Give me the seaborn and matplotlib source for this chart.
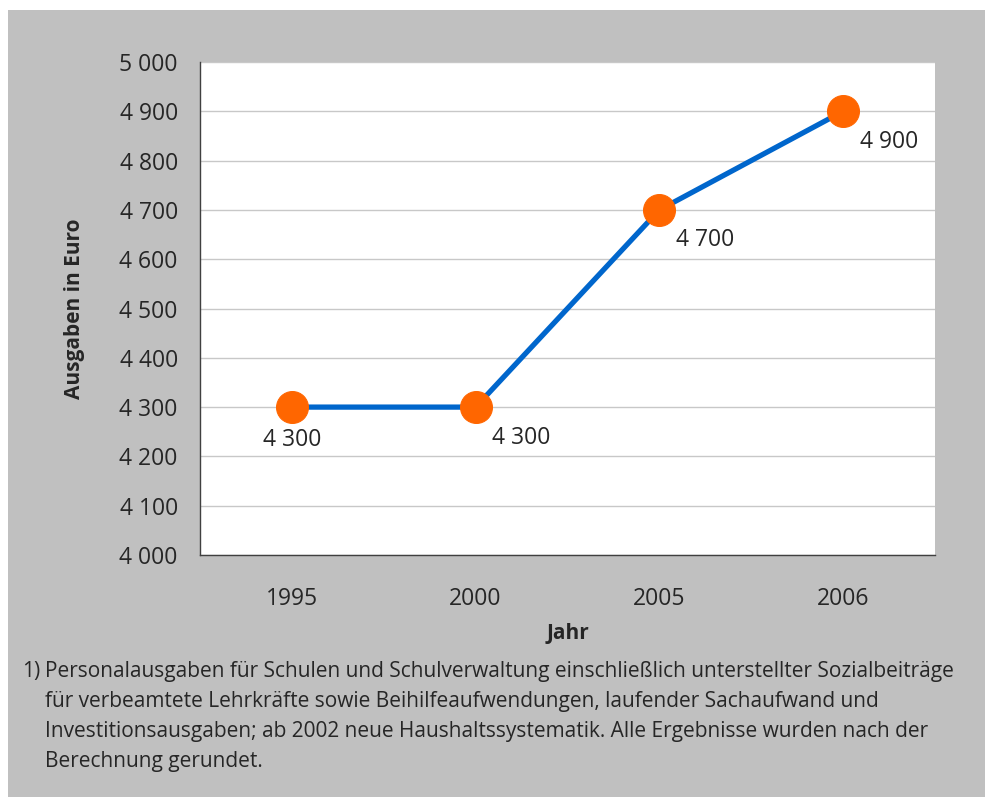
"""
Ausgaben je Schüler 1995-2006 - line chart with data labels.
"""

import matplotlib.pyplot as plt
import matplotlib.ticker as mticker
import numpy as np
import seaborn as sns
from matplotlib.patches import Rectangle

# Data
years = ["1995", "2000", "2005", "2006"]
spending = [4300, 4300, 4700, 4900]
y_ticks = list(range(4000, 5001, 100))

footnote_lines = [
    "Personalausgaben für Schulen und Schulverwaltung einschließlich unterstellter Sozialbeiträge",
    "für verbeamtete Lehrkräfte sowie Beihilfeaufwendungen, laufender Sachaufwand und",
    "Investitionsausgaben; ab 2002 neue Haushaltssystematik. Alle Ergebnisse wurden nach der",
    "Berechnung gerundet.",
]

BLUE = "#0066cc"
ORANGE = "#ff6600"
GRAY_BG = "#c0c0c0"

sns.set_style("white")
plt.rcParams["font.family"] = ["Open Sans", "DejaVu Sans"]

W, H = 985, 797
fig = plt.figure(figsize=(W / 100, H / 100), dpi=100)
fig.patch.set_facecolor("white")
fig.patches.append(Rectangle((8 / W, 0), 1 - 8 / W, 1 - 10 / H,
                             transform=fig.transFigure, facecolor=GRAY_BG,
                             edgecolor="none", zorder=-10))

ax = fig.add_axes([200 / W, 1 - 555 / H, 735 / W, 493 / H])
ax.set_facecolor("white")

x = np.arange(len(years))
sns.lineplot(x=x, y=spending, ax=ax, color=BLUE, linewidth=3.8, marker="o",
             markersize=23, markerfacecolor=ORANGE, markeredgecolor=ORANGE,
             zorder=3)

# Data labels
for i, v in enumerate(spending):
    label = f"{v:,}".replace(",", " ")
    if i == 0:
        ax.annotate(label, (i, v), xytext=(0, -24), textcoords="offset points",
                    ha="center", va="center", fontsize=16.5)
    else:
        ax.annotate(label, (i, v), xytext=(12, -22), textcoords="offset points",
                    ha="left", va="center", fontsize=16.5)

# Axes
ax.set_ylim(4000, 5000)
ax.set_yticks(y_ticks)
ax.yaxis.set_major_formatter(mticker.FuncFormatter(lambda v, _: f"{int(v):,}".replace(",", " ")))
ax.set_xlim(-0.5, len(years) - 0.5)
ax.set_xticks(np.arange(len(years) + 1) - 0.5)
ax.set_xticklabels([])
ax.set_xticks(x, minor=True)
ax.set_xticklabels(years, minor=True)
ax.tick_params(axis="x", which="minor", length=0, pad=23, labelsize=16.5)
ax.tick_params(axis="x", which="major", length=7, width=1, color="#404040", direction="out")
ax.tick_params(axis="y", length=7, width=1, color="#404040", direction="out",
               labelsize=16.5, pad=9)

ax.grid(axis="y", color="#c8c8c8", linewidth=1)
ax.set_axisbelow(True)
for side in ("top", "right"):
    ax.spines[side].set_visible(False)
for side in ("left", "bottom"):
    ax.spines[side].set_color("#404040")
    ax.spines[side].set_linewidth(1)

ax.set_xlabel("Jahr", fontsize=15, fontweight="bold", labelpad=9)
ax.set_ylabel("Ausgaben in Euro", fontsize=15, fontweight="bold", labelpad=25)

# Footnote
foot_font = ["Liberation Sans Narrow", "Open Sans", "DejaVu Sans"]
fig.text(22 / W, 1 - 672 / H, "1)", fontsize=15, va="center", ha="left", family=foot_font)
for k, line in enumerate(footnote_lines):
    fig.text(45 / W, 1 - (672 + 30 * k) / H, line, fontsize=15, va="center",
             ha="left", family=foot_font)

fig.savefig("out.png", dpi=100)
